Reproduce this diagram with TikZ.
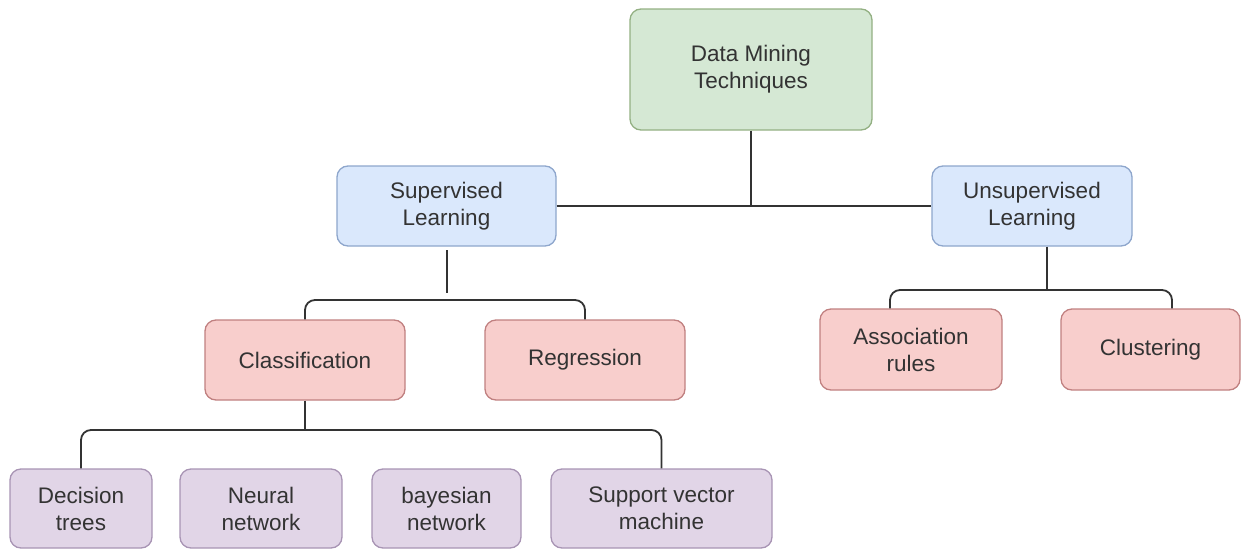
\documentclass[tikz,border=0pt]{standalone}
\usepackage{fontspec}
\setmainfont{Liberation Sans}
\usepackage{tikz}
\definecolor{txtgray}{HTML}{333333}
\definecolor{linegray}{HTML}{333333}
\definecolor{greenfill}{HTML}{D5E8D4}
\definecolor{greenline}{HTML}{93B083}
\definecolor{bluefill}{HTML}{DAE8FC}
\definecolor{blueline}{HTML}{8EA6CC}
\definecolor{redfill}{HTML}{F8CECC}
\definecolor{redline}{HTML}{C08080}
\definecolor{purplefill}{HTML}{E1D5E7}
\definecolor{purpleline}{HTML}{A894B4}

\tikzset{
    box/.style={draw, line width=1.3pt, rounded corners=11pt, inner sep=0pt,
        align=center, text=txtgray, font=\fontsize{22.5}{27}\selectfont},
    rootbox/.style={box, fill=greenfill, draw=greenline},
    learnbox/.style={box, fill=bluefill, draw=blueline},
    taskbox/.style={box, fill=redfill, draw=redline},
    algobox/.style={box, fill=purplefill, draw=purpleline},
    link/.style={draw=linegray, line width=1.8pt, rounded corners=10pt}
}

\begin{document}
\begin{tikzpicture}[x=1pt, y=-1pt]
\useasboundingbox (0,0) rectangle (1250,549);

%Top
\node[rootbox, minimum width=242pt, minimum height=121pt] (dmt) at (751, 69.5) {Data Mining\\Techniques};

%Learning types
\node[learnbox, minimum width=219pt, minimum height=80pt] (sup) at (446.5, 206) {Supervised\\Learning};
\node[learnbox, minimum width=200pt, minimum height=80pt] (unsup) at (1032, 206) {Unsupervised\\Learning};

%Tasks
\node[taskbox, minimum width=200pt, minimum height=80pt] (cls) at (305, 360) {Classification};
\node[taskbox, minimum width=200pt, minimum height=80pt] (regr) at (585, 360) {Regression};
\node[taskbox, minimum width=182pt, minimum height=81pt] (assoc) at (911, 349.5) {Association\\rules};
\node[taskbox, minimum width=179pt, minimum height=81pt] (clus) at (1150.5, 349.5) {Clustering};

%Bottom row
\node[algobox, minimum width=142pt, minimum height=79pt] (dtree) at (81, 508.5) {Decision\\trees};
\node[algobox, minimum width=162pt, minimum height=79pt] (neural) at (261, 508.5) {Neural\\network};
\node[algobox, minimum width=149pt, minimum height=79pt] (bayes) at (446.5, 508.5) {bayesian\\network};
\node[algobox, minimum width=221pt, minimum height=79pt] (svm) at (661.5, 508.5) {Support vector\\machine};

%Joints
\coordinate (suptop) at (447, 250);
\coordinate (supend) at (447, 293);
\coordinate (supbar) at (447, 300);
\coordinate (unsuptop) at ([xshift=15pt]unsup.south);
\coordinate (unsupbar) at (1047, 290);
\coordinate (ascend) at ([xshift=-21pt]assoc.north);
\coordinate (clusend) at ([xshift=21.5pt]clus.north);
\coordinate (clsbar) at (305, 430);

%Links
\draw[link] (dmt.south) -- (dmt.south |- sup.east);
\draw[link] (sup.east) -- (unsup.west);

\draw[link] (suptop) -- (supend);
\draw[link] (cls.north) -- (cls.north |- supbar) -- (regr.north |- supbar) -- (regr.north);

\draw[link] (unsuptop) -- (unsupbar);
\draw[link] (ascend) -- (ascend |- unsupbar) -- (clusend |- unsupbar) -- (clusend);

\draw[link] (cls.south) -- (clsbar);
\draw[link] (dtree.north) -- (dtree.north |- clsbar) -- (svm.north |- clsbar) -- (svm.north);
\end{tikzpicture}
\end{document}
